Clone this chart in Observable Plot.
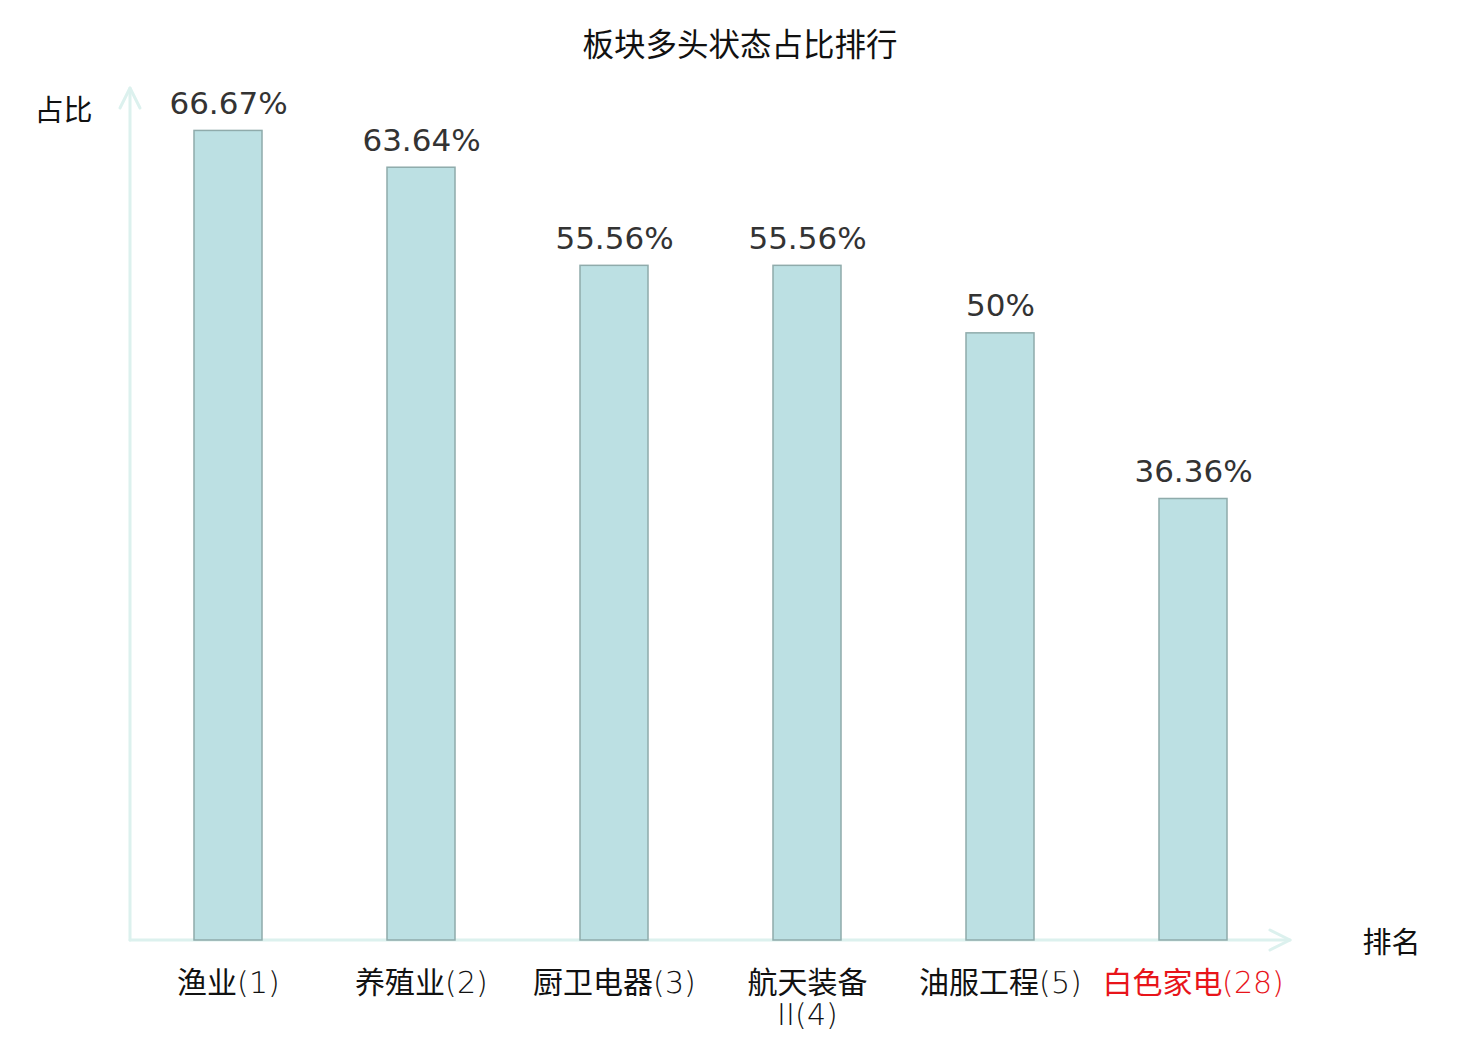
<!DOCTYPE html>
<html>
<head>
<meta charset="utf-8">
<script src="https://cdn.jsdelivr.net/npm/d3@7"></script>
<script src="https://cdn.jsdelivr.net/npm/@observablehq/plot@0.6"></script>
<style>
  @font-face {
    font-family: "TickLatin";
    src: local("DejaVu Sans ExtraLight"), local("DejaVuSans-ExtraLight");
    unicode-range: U+0020-007E;
  }
  html, body { margin: 0; padding: 0; background: #fff; }
  #title { height: 84px; display: flex; align-items: center; justify-content: center;
    font-family: "Noto Sans CJK SC", sans-serif; font-size: 31.5px; color: #111; width: 1480px; }
  #chart svg { display: block; }
</style>
</head>
<body>
<div id="title">板块多头状态占比排行</div>
<div id="chart"></div>
<script>
const categories = ["渔业(1)", "养殖业(2)", "厨卫电器(3)", "航天装备\nII(4)", "油服工程(5)", "白色家电(28)"];
const values = [66.67, 63.64, 55.56, 55.56, 50, 36.36];
const valueLabels = ["66.67%", "63.64%", "55.56%", "55.56%", "50%", "36.36%"];
const labelColors = ["#111", "#111", "#111", "#111", "#111", "#e8141a"];
const yAxisTitle = "占比";
const xAxisTitle = "排名";

const data = categories.map((c, i) => ({cat: c, value: values[i], label: valueLabels[i], color: labelColors[i]}));

const axisColor = "#dcf1ee";
const font = "'Noto Sans CJK SC', sans-serif";

const chart = Plot.plot({
  width: 1480,
  height: 956,
  marginLeft: 130,
  marginRight: 190,
  marginTop: 6,
  marginBottom: 100,
  style: {fontFamily: font, background: "#fff"},
  x: {domain: categories, paddingInner: 0.65, paddingOuter: 0.325, axis: null},
  y: {domain: [0, 70], axis: null},
  marks: [
    Plot.barY(data, {x: "cat", y: "value", fill: "#bce0e3", stroke: "#8fabab", strokeWidth: 1.5}),
    Plot.text(data, {x: "cat", y: "value", text: "label", dy: -17, lineAnchor: "bottom",
      fontSize: 31, fill: "#333", fontFamily: "'DejaVu Sans', sans-serif"}),
    Plot.text(data, {x: "cat", frameAnchor: "bottom", text: "cat", lineAnchor: "top", dy: 29,
      fontSize: 30, fill: "color", lineHeight: 1.08, fontFamily: "TickLatin, 'Noto Sans CJK SC', sans-serif"}),
    Plot.text([yAxisTitle], {frameAnchor: "top-left", text: d => d, textAnchor: "end", dx: -38, dy: 10,
      fontSize: 29, fill: "#111", fontFamily: font}),
    Plot.text([xAxisTitle], {frameAnchor: "bottom-right", text: d => d, textAnchor: "start", dx: 72, dy: 12,
      fontSize: 29, fill: "#111", fontFamily: font})
  ]
});

// axis lines with open arrowheads, positioned from the scales
const xs = chart.scale("x").range;
const ys = chart.scale("y").range;
const svg = d3.select(chart);
const g = svg.insert("g", ":first-child").attr("fill", "none").attr("stroke", axisColor)
  .attr("stroke-width", 3).attr("stroke-linecap", "round").attr("stroke-linejoin", "round");
const x0 = xs[0], x1 = xs[1], y0 = ys[0], y1 = ys[1];
g.append("line").attr("x1", x0).attr("y1", y0).attr("x2", x1).attr("y2", y0);
g.append("line").attr("x1", x0).attr("y1", y0).attr("x2", x0).attr("y2", y1 - 2);
g.append("path").attr("d", `M${x1 - 20},${y0 - 10}L${x1},${y0}L${x1 - 20},${y0 + 10}`);
g.append("path").attr("d", `M${x0 - 10},${y1 + 18}L${x0},${y1 - 2}L${x0 + 10},${y1 + 18}`);

document.getElementById("chart").appendChild(chart);
</script>
</body>
</html>
